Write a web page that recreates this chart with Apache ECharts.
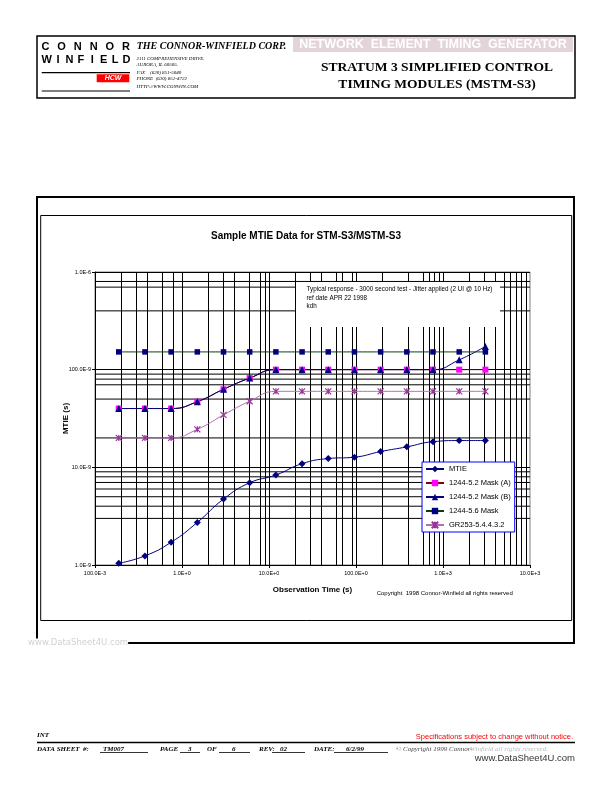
<!DOCTYPE html>
<html>
<head>
<meta charset="utf-8">
<title>Sample MTIE Data for STM-S3/MSTM-S3</title>
<script src="https://cdn.jsdelivr.net/npm/echarts@6/dist/echarts.min.js"></script>
<style>
  html, body { margin: 0; padding: 0; background: #fff; }
  #main { width: 612px; height: 792px; }
</style>
</head>
<body>
<div id="main"></div>
<script>
// observation times (s)
const tau = [0.1875, 0.375, 0.75, 1.5, 3, 6, 12, 24, 48, 96, 192, 384, 768, 1536, 3072]
// MTIE values (s)
const mtie = [1.04e-9, 1.24e-9, 1.71e-9, 2.73e-9, 4.73e-9, 6.95e-9, 8.34e-9, 1.09e-8, 1.23e-8, 1.27e-8, 1.45e-8, 1.62e-8, 1.83e-8, 1.88e-8, 1.88e-8]
const mask52A = [4.0e-8, 4.0e-8, 4.0e-8, 4.7e-8, 6.3e-8, 8.2e-8, 1e-7, 1e-7, 1e-7, 1e-7, 1e-7, 1e-7, 1e-7, 1e-7, 1e-7]
const mask52B = [4.0e-8, 4.0e-8, 4.0e-8, 4.7e-8, 6.3e-8, 8.2e-8, 1e-7, 1e-7, 1e-7, 1e-7, 1e-7, 1e-7, 1e-7, 1.26e-7, 1.73e-7]
const mask56 = [1.52e-7, 1.52e-7, 1.52e-7, 1.52e-7, 1.52e-7, 1.52e-7, 1.52e-7, 1.52e-7, 1.52e-7, 1.52e-7, 1.52e-7, 1.52e-7, 1.52e-7, 1.52e-7, 1.52e-7]
const gr253 = [2.0e-8, 2.0e-8, 2.0e-8, 2.45e-8, 3.44e-8, 4.75e-8, 6.0e-8, 6.0e-8, 6.0e-8, 6.0e-8, 6.0e-8, 6.0e-8, 6.0e-8, 6.0e-8, 6.0e-8]

// tick labels
const xTickLabels = ['100.0E-3', '1.0E+0', '10.0E+0', '100.0E+0', '1.0E+3', '10.0E+3']
const yTickLabels = ['1.0E-9', '10.0E-9', '100.0E-9', '1.0E-6']
// minor gridlines that show in the original
const xMinorGrid = [0.2, 0.3, 0.4, 0.6, 0.8, 2, 3, 4, 6, 8, 9, 20, 30, 40, 60, 70, 90, 200, 400, 600, 700, 800, 900, 2000, 3000, 4000, 5000, 6000, 7000, 8000, 9000]
const yMinorGrid = [8e-7, 7e-7, 4e-7, 9e-8, 8e-8, 7e-8, 5e-8, 2e-8, 9e-9, 8e-9, 7e-9, 6e-9, 5e-9, 4e-9, 3e-9]
const xRange = [0.1, 10000]

const SANS = 'Liberation Sans, Arial, sans-serif'
const SERIF = 'Liberation Serif, Times New Roman, serif'

const pairs = vals => tau.map((t, i) => [t, vals[i]])

// little helpers for the page decoration
const txt = (x, y, text, font, fill, align, extra) => Object.assign({
  type: 'text', x: x, y: y, z: 10,
  style: { text: text, font: font, fill: fill || '#000', align: align || 'left', verticalAlign: 'middle' }
}, extra || {})
const line = (x1, y1, x2, y2, w) => ({
  type: 'line', z: 10, shape: { x1: x1, y1: y1, x2: x2, y2: y2 },
  style: { stroke: '#000', lineWidth: w || 1 }
})

const graphics = []
// header box
graphics.push({ type: 'rect', z: 10, shape: { x: 37, y: 36, width: 538, height: 62 }, style: { fill: 'none', stroke: '#000', lineWidth: 1.5 } })
'CONNOR'.split('').forEach((c, i) => graphics.push(txt(45.5 + i * 16.1, 47, c, 'bold 11px ' + SANS, '#000', 'center')))
'WINFIELD'.split('').forEach((c, i) => graphics.push(txt(46.6 + i * 11.4, 60, c, 'bold 11px ' + SANS, '#000', 'center')))
graphics.push(line(41.7, 72.7, 130, 72.7, 1.2))
graphics.push({ type: 'rect', z: 10, shape: { x: 96.7, y: 74.3, width: 32.6, height: 8 }, style: { fill: '#ff0000' } })
graphics.push(txt(113, 78.5, 'HCW', 'bold italic 7px ' + SANS, '#fff', 'center'))
graphics.push(line(41.7, 91, 130, 91, 1.2))
graphics.push(txt(136.7, 46.5, 'THE CONNOR-WINFIELD CORP.', 'bold italic 10px ' + SERIF))
const addr = ['2111 COMPREHENSIVE DRIVE.', 'AURORA, IL 60505.', 'FAX    (630) 851-5040', 'PHONE  (630) 851-4722', 'HTTP://WWW.CONWIN.COM']
const addrY = [58.5, 65, 72.3, 79, 86.5]
addr.forEach((a, i) => graphics.push(txt(136.5, addrY[i], a, 'italic 5px ' + SERIF)))
graphics.push({ type: 'rect', z: 10, shape: { x: 293, y: 37, width: 280, height: 15 }, style: { fill: '#e2d4da' } })
graphics.push(txt(433, 45, 'NETWORK  ELEMENT  TIMING  GENERATOR', 'bold 12.5px ' + SANS, '#fff', 'center'))
graphics.push(txt(437, 68, 'STRATUM 3 SIMPLIFIED CONTROL', 'bold 13.5px ' + SERIF, '#000', 'center'))
graphics.push(txt(437, 84.5, 'TIMING MODULES (MSTM-S3)', 'bold 13.5px ' + SERIF, '#000', 'center'))

// chart frames
graphics.push({ type: 'rect', z: 10, shape: { x: 37, y: 197, width: 537, height: 446 }, style: { fill: 'none', stroke: '#000', lineWidth: 2 } })
graphics.push({ type: 'rect', z: 10, shape: { x: 40.7, y: 215.5, width: 531, height: 405 }, style: { fill: 'none', stroke: '#000', lineWidth: 1 } })

// annotation box over the grid
graphics.push({ type: 'rect', z: 10, shape: { x: 296, y: 282, width: 204, height: 45 }, style: { fill: '#fff' } })
graphics.push(txt(306.5, 289.3, 'Typical response - 3000 second test - Jitter applied (2 UI @ 10 Hz)', '6.3px ' + SANS))
graphics.push(txt(306.5, 297.8, 'ref date APR 22 1998', '6.3px ' + SANS))
graphics.push(txt(306.5, 306.5, 'kdh', '6.3px ' + SANS))
graphics.push(txt(376.7, 593.5, 'Copyright  1998 Connor-Winfield all rights reserved', '6px ' + SANS))

// watermark near the frame
graphics.push(txt(28, 643, 'www.DataSheet4U.com', '8.5px DejaVu Sans, sans-serif', '#d2d2d2', 'left', { z: 11 }))
graphics[graphics.length - 1].style.backgroundColor = '#fff'

// footer
graphics.push(txt(37, 735.5, 'INT', 'bold italic 7px ' + SERIF))
graphics.push(txt(573, 737, 'Specifications subject to change without notice.', '7.5px ' + SANS, '#ff0000', 'right'))
graphics.push(line(37, 742.5, 575, 742.5, 1.5))
const fFont = 'bold italic 7px ' + SERIF
graphics.push(txt(37, 749, 'DATA SHEET  #:', fFont))
graphics.push(txt(103, 749, 'TM007', fFont))
graphics.push(line(100, 752.5, 148, 752.5, 0.8))
graphics.push(txt(160, 749, 'PAGE', fFont))
graphics.push(txt(188, 749, '3', fFont))
graphics.push(line(180, 752.5, 200, 752.5, 0.8))
graphics.push(txt(207, 749, 'OF', fFont))
graphics.push(txt(232, 749, '6', fFont))
graphics.push(line(219, 752.5, 250, 752.5, 0.8))
graphics.push(txt(259, 749, 'REV:', fFont))
graphics.push(txt(280, 749, '02', fFont))
graphics.push(line(272, 752.5, 305, 752.5, 0.8))
graphics.push(txt(314, 749, 'DATE:', fFont))
graphics.push(txt(346, 749, '6/2/99', fFont))
graphics.push(line(334, 752.5, 388, 752.5, 0.8))
graphics.push(txt(396, 749, '\u00a9 Copyright 1999 Connor-', 'italic 7px ' + SERIF, '#444'))
graphics.push(txt(470, 749, 'Winfield all rights reserved.', 'italic 7px ' + SERIF, '#bbb'))
graphics.push(txt(575, 758, 'www.DataSheet4U.com', '9.5px ' + SANS, '#333', 'right', { z: 12 }))
graphics[graphics.length - 1].style.backgroundColor = '#fff'

// horizontal minor gridlines, one flat line each through the axes
const hGridSeries = yMinorGrid.map(v => ({
  name: 'hgrid',
  type: 'line',
  data: [[xRange[0], v], [xRange[1], v]],
  silent: true,
  z: 1,
  symbol: 'none',
  lineStyle: { color: '#000', width: 1 },
  emphasis: { disabled: true }
}))

const chart = echarts.init(document.getElementById('main'), null, { renderer: 'canvas' })

const option = {
  animation: false,
  backgroundColor: '#fff',
  title: {
    text: 'Sample MTIE Data for STM-S3/MSTM-S3',
    left: 'center',
    top: 231,
    padding: 0,
    textStyle: { fontFamily: SANS, fontSize: 10, fontWeight: 'bold', color: '#000' }
  },
  grid: {
    left: 95, right: 82, top: 272, bottom: 227,
    show: true, borderColor: '#808080', borderWidth: 1, backgroundColor: '#fff'
  },
  legend: {
    data: ['MTIE', '1244-5.2 Mask (A)', '1244-5.2 Mask (B)', '1244-5.6 Mask', 'GR253-5.4.4.3.2'],
    orient: 'vertical',
    left: 422,
    top: 462,
    padding: [2, 4, 2, 3],
    itemGap: 4,
    itemWidth: 18,
    itemHeight: 8,
    backgroundColor: '#fff',
    borderColor: '#0000ff',
    borderWidth: 1,
    borderRadius: 0,
    textStyle: { fontFamily: SANS, fontSize: 7.5, color: '#000', lineHeight: 10 }
  },
  xAxis: {
    type: 'log',
    logBase: 10,
    min: xRange[0],
    max: xRange[1],
    name: 'Observation Time (s)',
    nameLocation: 'middle',
    nameGap: 21,
    nameMoveOverlap: false,
    nameTextStyle: { fontFamily: SANS, fontSize: 8, fontWeight: 'bold', color: '#000' },
    axisLine: { lineStyle: { color: '#000', width: 1 } },
    axisTick: { show: true, length: 3, lineStyle: { color: '#000' } },
    axisLabel: {
      fontFamily: SANS, fontSize: 5.5, color: '#000', margin: 5,
      formatter: v => xTickLabels[Math.round(Math.log10(v)) + 1]
    },
    splitLine: { show: true, showMinLine: false, showMaxLine: false, lineStyle: { color: '#000', width: 1 } }
  },
  yAxis: {
    type: 'log',
    logBase: 10,
    min: 1e-9,
    max: 1e-6,
    name: 'MTIE (s)',
    nameLocation: 'middle',
    nameGap: 25,
    nameMoveOverlap: false,
    nameTextStyle: { fontFamily: SANS, fontSize: 8, fontWeight: 'bold', color: '#000' },
    axisLine: { show: true, lineStyle: { color: '#000', width: 1 } },
    axisTick: { show: true, length: 3, lineStyle: { color: '#000' } },
    axisLabel: {
      fontFamily: SANS, fontSize: 5.5, color: '#000', margin: 4,
      formatter: v => yTickLabels[Math.round(Math.log10(v)) + 9]
    },
    splitLine: { show: true, showMinLine: false, showMaxLine: false, lineStyle: { color: '#000', width: 1 } }
  },
  series: hGridSeries.concat([
    {
      // vertical minor log gridlines
      name: 'vgrid',
      type: 'line',
      data: [],
      silent: true,
      z: 1,
      markLine: {
        z: 1,
        silent: true,
        animation: false,
        symbol: ['none', 'none'],
        label: { show: false },
        emphasis: { disabled: true },
        lineStyle: { color: '#000', width: 1, type: 'solid' },
        data: xMinorGrid.map(v => ({ xAxis: v }))
      }
    },
    {
      name: 'MTIE',
      type: 'line',
      data: pairs(mtie),
      smooth: 0.5,
      symbol: 'diamond',
      symbolSize: 7,
      itemStyle: { color: '#000080' },
      lineStyle: { color: '#000080', width: 1 }
    },
    {
      name: '1244-5.2 Mask (A)',
      type: 'line',
      data: pairs(mask52A),
      smooth: 0.5,
      symbol: 'rect',
      symbolSize: 6,
      itemStyle: { color: '#ff00ff' },
      lineStyle: { color: '#800000', width: 1 }
    },
    {
      name: '1244-5.2 Mask (B)',
      type: 'line',
      data: pairs(mask52B),
      smooth: 0.5,
      symbol: 'triangle',
      symbolSize: 7,
      itemStyle: { color: '#000080' },
      lineStyle: { color: '#000080', width: 1 }
    },
    {
      name: '1244-5.6 Mask',
      type: 'line',
      data: pairs(mask56),
      smooth: 0.5,
      symbol: 'rect',
      symbolSize: 5.5,
      itemStyle: { color: '#000080' },
      lineStyle: { color: '#0a3d0a', width: 1 }
    },
    {
      name: 'GR253-5.4.4.3.2',
      type: 'line',
      data: pairs(gr253),
      smooth: 0.5,
      symbol: 'path://M0 0L10 10M10 0L0 10M5 0L5 10',
      symbolSize: 6,
      itemStyle: { color: '#993399', borderColor: '#993399', borderWidth: 1.2 },
      lineStyle: { color: '#b070b0', width: 1 }
    }
  ]),
  graphic: graphics
}

chart.setOption(option)
</script>
</body>
</html>
